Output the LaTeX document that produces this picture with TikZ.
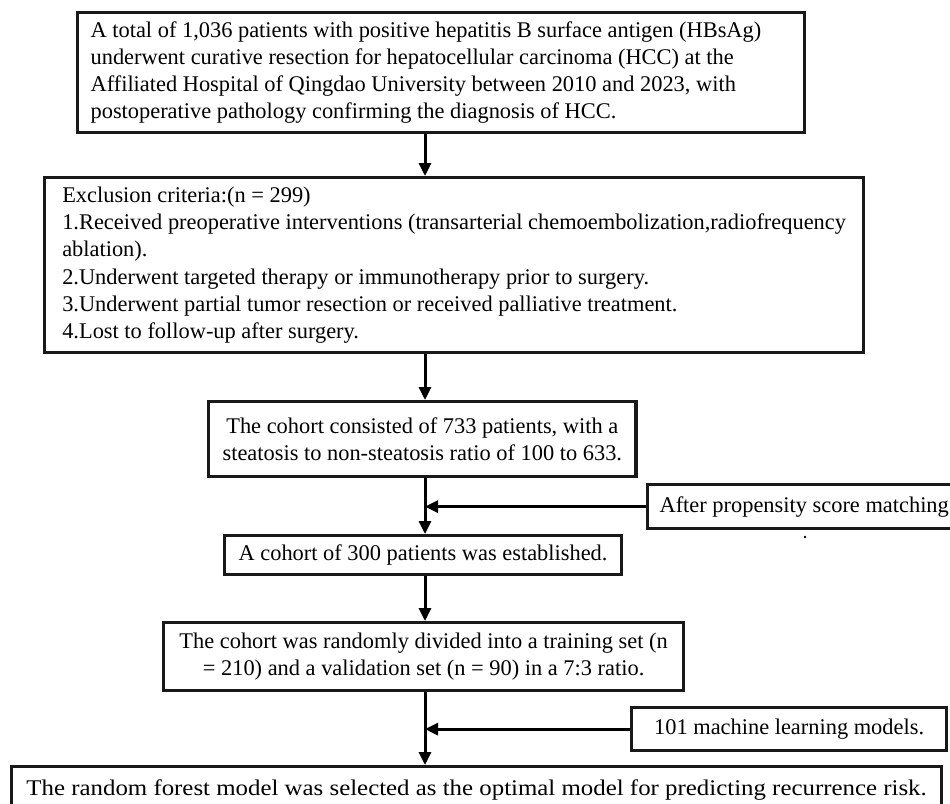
\documentclass[tikz,border=0pt]{standalone}
\usepackage{fontspec}
\usepackage{graphicx}
\setmainfont{Liberation Serif}
\usetikzlibrary{arrows.meta}
\tikzset{
  box/.style={draw=black!90, line width=3.2pt, fill=white, inner xsep=14pt, inner ysep=0pt,
    font=\fontsize{22.4}{26.9}\selectfont, anchor=north west},
  arr/.style={line width=3pt, -{Triangle[length=13pt,width=12pt]}},
}
\begin{document}
\begin{tikzpicture}[x=1pt,y=-1pt]
\clip (0,0) rectangle (950,803);
\useasboundingbox (0,0) rectangle (950,803);
\fill[white] (0,0) rectangle (950,803);
\coordinate (X) at (425,0);
% Box 1
\node[box, inner xsep=13pt, minimum width=727pt, minimum height=122pt, text width=701pt, align=flush left, yshift=-2pt, minimum height=120pt] (b1) at (76,9)
 {A total of 1,036 patients with positive hepatitis B surface antigen (HBsAg)\\
  underwent curative resection for hepatocellular carcinoma (HCC) at the\\
  Affiliated Hospital of Qingdao University between 2010 and 2023, with\\
  postoperative pathology confirming the diagnosis of HCC.};
% Box 2
\node[box, inner xsep=10pt, minimum width=819pt, minimum height=175pt, align=flush left, font=\fontsize{22.4}{27.3}\selectfont] (b2) at (43,176)
 {Exclusion criteria:(n = 299)\\
  1.Received preoperative interventions (transarterial chemoembolization,radiofrequency\\
  ablation).\\
  2.Underwent targeted therapy or immunotherapy prior to surgery.\\
  3.Underwent partial tumor resection or received palliative treatment.\\
  4.Lost to follow-up after surgery.};
% Box 3
\node[box, minimum width=424pt, minimum height=75pt, align=flush center] (b3) at (207,400)
 {The cohort consisted of 733 patients, with a\\
  steatosis to non-steatosis ratio of 100 to 633.};
% PSM box
\node[box, inner xsep=12pt, minimum width=340pt, minimum height=44pt, align=flush left, text width=316pt] (psm) at (646,483)
 {After propensity score matching};
\fill (805,537) circle (1.3pt);
% Box 5
\node[box, minimum width=394pt, minimum height=39pt, align=flush center] (b5) at (223,534)
 {A cohort of 300 patients was established.};
% Box 6
\node[box, minimum width=520pt, minimum height=68pt, align=flush center] (b6) at (162,621)
 {The cohort was randomly divided into a training set (n\\
  = 210) and a validation set (n = 90) in a 7:3 ratio.};
% ML box
\node[box, minimum width=315pt, minimum height=43pt, align=flush center] (ml) at (630,706)
 {101 machine learning models.};
% Box 8
\node[box, inner xsep=4pt, minimum width=930pt, minimum height=50pt, align=flush center, text depth=0pt] (b8) at (10,765)
 {\raisebox{3pt}[14pt][0pt]{\scalebox{1.11}[1]{The random forest model was selected as the optimal model for predicting recurrence risk.}}};
% Arrows
\draw[arr] (b1.south -| X) -- (b2.north -| X);
\draw[arr] (b2.south -| X) -- (b3.north -| X);
\draw[arr] (b3.south -| X) -- (b5.north -| X);
\draw[arr] (b5.south -| X) -- (b6.north -| X);
\draw[arr] (b6.south -| X) -- (b8.north -| X);
\draw[arr] (psm.west) -- (psm.west -| X);
\draw[arr] (ml.west) -- (ml.west -| X);
\end{tikzpicture}
\end{document}
